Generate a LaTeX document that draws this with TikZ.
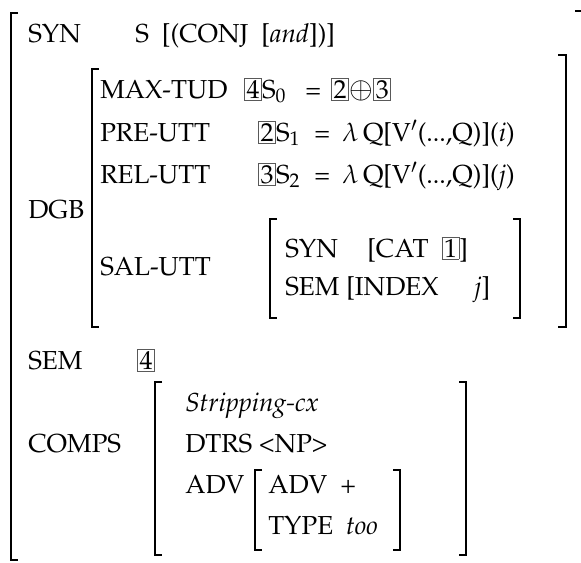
\documentclass[tikz,border=0pt]{standalone}
\usepackage[T1]{fontenc}
\usepackage{mathpazo}
\usepackage{graphicx}

\newcommand{\boxnum}[1]{{\setlength{\fboxsep}{1.2pt}\setlength{\fboxrule}{0.5pt}\fcolorbox{black!65}{white}{#1}}}
\newcommand{\circplus}{\raisebox{-0.05ex}{\scalebox{1.12}{$\oplus$}}}

\begin{document}
\begin{tikzpicture}[x=0.025cm,y=-0.025cm,
  lbl/.style={anchor=base west,inner sep=0pt,font=\fontsize{18.5}{22}\selectfont},
  brk/.style={line width=0.8pt}]

\useasboundingbox (0,0) rectangle (581,562);

% outer matrix
\draw[brk] (18,13) -- (11,13) -- (11,560) -- (18,560);
\draw[brk] (575,11) -- (581,11);

\node[lbl] (syn) at (28,42) {SYN};
\node[lbl] (synval) at (135,42) {S\ \ [(CONJ\ \ [\textit{and}])]};

% DGB
\node[lbl] (dgb) at (28,218) {DGB};
\draw[brk] (99,69) -- (92,69) -- (92,327) -- (99,327);
\draw[brk] (558,55) -- (566,55) -- (566,327) -- (558,327);

\node[lbl] (maxtud) at (100,98) {MAX-TUD};
\node[lbl] (maxval) at (244,98) {\boxnum{4}S$_0$};
\node[lbl] (maxeq) at (305,98) {=};
\node[lbl] (maxsum) at (331,98) {\boxnum{2}\circplus\boxnum{3}};

\node[lbl] (preutt) at (100,141) {PRE-UTT};
\node[lbl] (preval) at (258,141) {\boxnum{2}S$_1$};
\node[lbl] (preeq) at (314,141) {=};
\node[lbl] (prelam) at (342,141) {$\lambda$\,Q[V$'$(...,Q)](\textit{i})};

\node[lbl] (relutt) at (100,183) {REL-UTT};
\node[lbl] (relval) at (258,183) {\boxnum{3}S$_2$};
\node[lbl] (releq) at (314,183) {=};
\node[lbl] (rellam) at (342,183) {$\lambda$\,Q[V$'$(...,Q)](\textit{j})};

\node[lbl] (salutt) at (100,275) {SAL-UTT};
\draw[brk] (277,219) -- (270,219) -- (270,318) -- (277,318);
\draw[brk] (513,219) -- (520,219) -- (520,318) -- (513,318);
\node[lbl] (salsyn) at (285,257) {SYN};
\node[lbl] (salcat) at (367,257) {[CAT\ \ \boxnum{1}]};
\node[lbl] (salsem) at (285,295) {SEM};
\node[lbl] (salidx) at (346,295) {[INDEX};
\node[lbl] (salj) at (474,295) {\textit{j}]};

% SEM
\node[lbl] (sem) at (28,369) {SEM};
\node[lbl] (semval) at (137,369) {\boxnum{4}};

% COMPS
\node[lbl] (comps) at (28,452) {COMPS};
\draw[brk] (162,382) -- (155,382) -- (155,555) -- (162,555);
\draw[brk] (459,382) -- (466,382) -- (466,555) -- (459,555);
\node[lbl] (strip) at (185,411) {\textit{Stripping-cx}};
\node[lbl] (dtrs) at (185,452) {DTRS <NP>};
\node[lbl] (adv) at (185,493) {ADV};
\draw[brk] (262,470) -- (255,470) -- (255,550) -- (262,550);
\draw[brk] (393,470) -- (400,470) -- (400,550) -- (393,550);
\node[lbl] (advadv) at (268,493) {ADV\ \ \textit{+}};
\node[lbl] (advtype) at (268,534) {TYPE\ \ \textit{too}};

\end{tikzpicture}
\end{document}
